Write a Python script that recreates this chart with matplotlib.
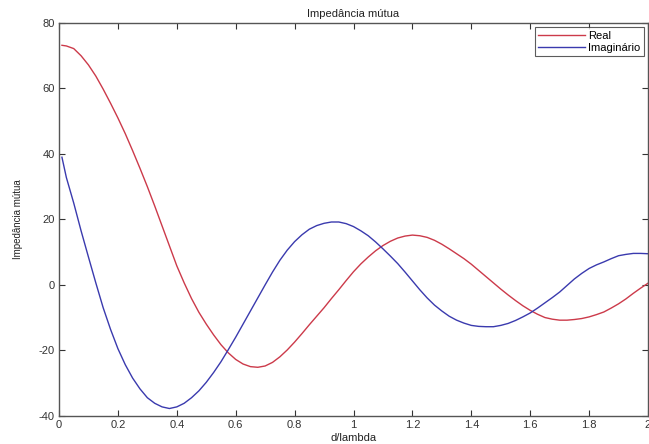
import matplotlib
matplotlib.use('Agg')
import matplotlib.pyplot as plt
import numpy as np

# valores (d/lambda, impedancia mutua em ohm)
d_lambda = [0.01, 0.025, 0.05, 0.075, 0.10, 0.125, 0.15, 0.175, 0.20, 0.225,
            0.25, 0.275, 0.30, 0.325, 0.35, 0.375, 0.40, 0.425, 0.45, 0.475,
            0.50, 0.525, 0.55, 0.575, 0.60, 0.625, 0.65, 0.675, 0.70, 0.725,
            0.75, 0.775, 0.80, 0.825, 0.85, 0.875, 0.90, 0.925, 0.95, 0.975,
            1.00, 1.025, 1.05, 1.075, 1.10, 1.125, 1.15, 1.175, 1.20, 1.225,
            1.25, 1.275, 1.30, 1.325, 1.35, 1.375, 1.40, 1.425, 1.45, 1.475,
            1.50, 1.525, 1.55, 1.575, 1.60, 1.625, 1.65, 1.675, 1.70, 1.725,
            1.75, 1.775, 1.80, 1.825, 1.85, 1.875, 1.90, 1.925, 1.95, 1.975,
            2.00]

real = [73.2, 73.0, 72.2, 70.0, 67.2, 63.8, 59.8, 55.5, 51.0, 46.2,
        41.0, 35.6, 30.0, 24.1, 18.0, 11.9, 5.8, 0.6, -4.2, -8.4,
        -12.0, -15.3, -18.3, -20.8, -22.8, -24.2, -25.0, -25.2, -24.8, -23.7,
        -22.0, -19.9, -17.5, -14.9, -12.2, -9.6, -7.0, -4.2, -1.5, 1.3,
        4.0, 6.4, 8.5, 10.4, 12.0, 13.3, 14.3, 14.9, 15.2, 15.0,
        14.5, 13.6, 12.4, 11.0, 9.5, 8.0, 6.3, 4.4, 2.5, 0.6,
        -1.3, -3.1, -4.8, -6.4, -7.8, -9.0, -10.0, -10.5, -10.8, -10.8,
        -10.6, -10.3, -9.8, -9.1, -8.3, -7.1, -5.8, -4.3, -2.6, -1.0,
        0.5]

imag = [39.0, 32.8, 25.0, 16.5, 8.5, 0.6, -7.0, -13.6, -19.5, -24.4,
        -28.5, -31.8, -34.5, -36.2, -37.3, -37.8, -37.3, -36.2, -34.5, -32.4,
        -29.8, -26.8, -23.5, -19.8, -16.0, -12.0, -8.0, -4.0, 0.0, 3.9,
        7.5, 10.6, 13.2, 15.3, 17.0, 18.1, 18.8, 19.2, 19.2, 18.7,
        17.8, 16.5, 15.0, 13.1, 11.0, 8.8, 6.5, 3.9, 1.2, -1.5,
        -4.0, -6.2, -8.0, -9.6, -10.8, -11.7, -12.4, -12.7, -12.8, -12.8,
        -12.4, -11.8, -10.9, -9.8, -8.6, -7.1, -5.5, -3.9, -2.2, -0.2,
        1.8, 3.5, 5.0, 6.1, 7.0, 8.0, 8.9, 9.3, 9.6, 9.6,
        9.5]

plt.rcParams['font.family'] = ['Liberation Sans', 'DejaVu Sans']
plt.rcParams['axes.unicode_minus'] = False

fig = plt.figure(figsize=(6.49, 4.44), dpi=100)
ax = fig.add_axes([0.0909, 0.0637, 0.9076, 0.8844])

ax.plot(d_lambda, real, color='#cc3a4a', lw=1.0, label='Real')
ax.plot(d_lambda, imag, color='#3a3aae', lw=1.0, label='Imaginário')

ax.set_xlim(0, 2)
ax.set_ylim(-40, 80)
ax.set_xticks(np.arange(0, 2.01, 0.2))
ax.set_xticklabels(['0', '0.2', '0.4', '0.6', '0.8', '1', '1.2', '1.4', '1.6', '1.8', '2'])
ax.set_yticks(range(-40, 81, 20))

ax.tick_params(direction='in', top=True, right=True, length=4, width=0.8,
               labelsize=8, colors='#333333', pad=3)
for s in ax.spines.values():
    s.set_color('#555555')
    s.set_linewidth(1.0)

ax.set_title('Impedância mútua', fontsize=8, color='#222222', pad=4)
ax.set_xlabel('d/lambda', fontsize=8, color='#222222', labelpad=2)
ax.set_ylabel('Impedância mútua', fontsize=7, color='#222222', labelpad=11)

leg = ax.legend(loc='upper right', fontsize=8, frameon=True, fancybox=False,
                handlelength=4.2, borderpad=0.3, labelspacing=0.2,
                handletextpad=0.3, borderaxespad=0.4)
leg.get_frame().set_edgecolor('#333333')
leg.get_frame().set_linewidth(0.8)

fig.savefig('out.png', dpi=100)
